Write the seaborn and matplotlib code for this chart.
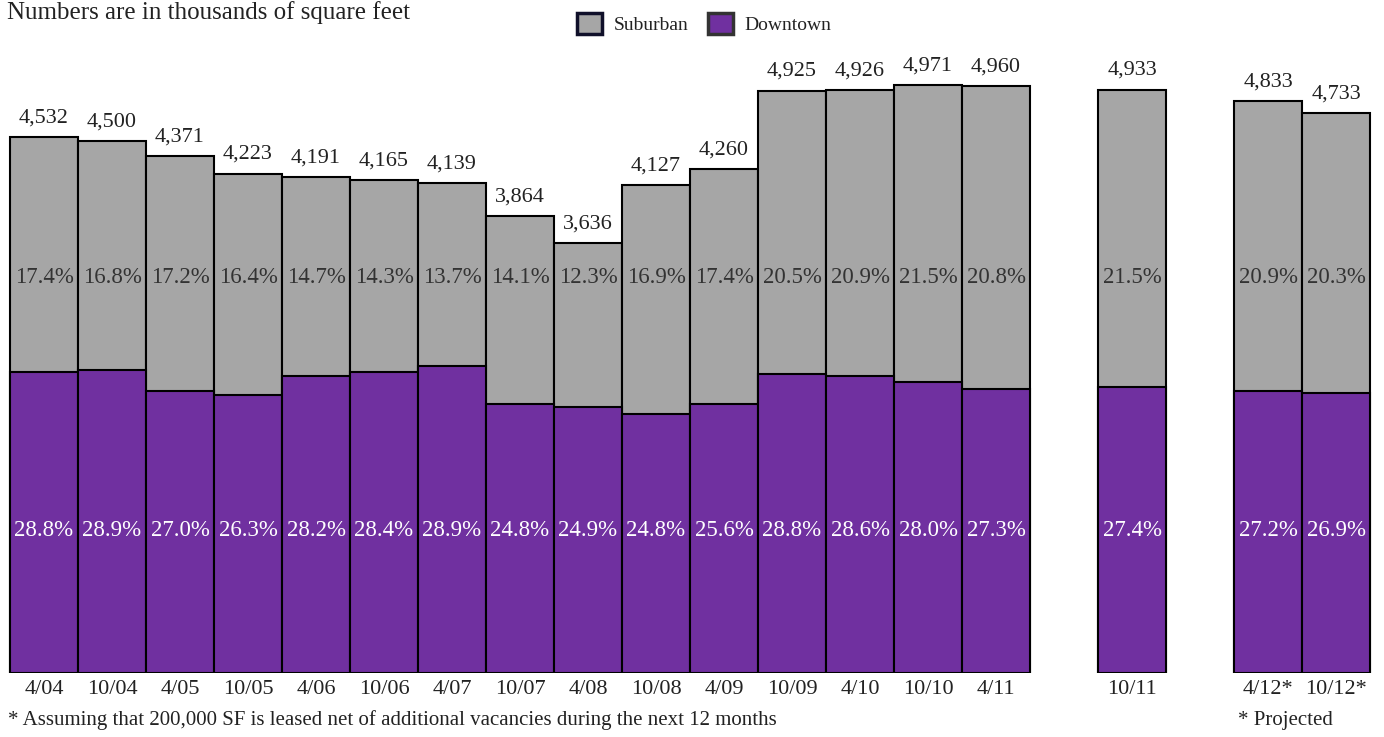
import matplotlib
matplotlib.use("Agg")
import matplotlib.pyplot as plt
from matplotlib.patches import Patch
import seaborn as sns

periods = ["4/04", "10/04", "4/05", "10/05", "4/06", "10/06", "4/07", "10/07",
           "4/08", "10/08", "4/09", "10/09", "4/10", "10/10", "4/11", "10/11",
           "4/12*", "10/12*"]
total_sf = [4532, 4500, 4371, 4223, 4191, 4165, 4139, 3864, 3636, 4127,
            4260, 4925, 4926, 4971, 4960, 4933, 4833, 4733]
downtown_sf = [2545, 2562, 2384, 2351, 2511, 2545, 2596, 2274, 2249, 2190,
               2274, 2528, 2511, 2460, 2401, 2418, 2384, 2367]
suburban_rate = ["17.4%", "16.8%", "17.2%", "16.4%", "14.7%", "14.3%", "13.7%",
                 "14.1%", "12.3%", "16.9%", "17.4%", "20.5%", "20.9%", "21.5%",
                 "20.8%", "21.5%", "20.9%", "20.3%"]
downtown_rate = ["28.8%", "28.9%", "27.0%", "26.3%", "28.2%", "28.4%", "28.9%",
                 "24.8%", "24.9%", "24.8%", "25.6%", "28.8%", "28.6%", "28.0%",
                 "27.3%", "27.4%", "27.2%", "26.9%"]

# an empty slot is left after these periods
GAP_AFTER = ["4/11", "10/11"]

GRAY = "#a6a6a6"
PURPLE = "#7030a0"


def main():
    sns.set_theme(style="white")
    plt.rcParams["font.family"] = ["Liberation Serif", "DejaVu Serif"]

    pos = []
    slot = 0
    for p in periods:
        pos.append(slot)
        slot += 2 if p in GAP_AFTER else 1

    fig = plt.figure(figsize=(13.84, 7.37), dpi=100)
    ax = fig.add_axes([0, 64 / 737, 1, 673 / 737])

    sns.barplot(x=pos, y=total_sf, native_scale=True, width=1, orient="x",
                color=GRAY, saturation=1, edgecolor="black", linewidth=1.5,
                errorbar=None, ax=ax)
    sns.barplot(x=pos, y=downtown_sf, native_scale=True, width=1, orient="x",
                color=PURPLE, saturation=1, edgecolor="black", linewidth=1.5,
                errorbar=None, ax=ax)

    ax.bar_label(ax.containers[0], labels=[f"{v:,}" for v in total_sf],
                 padding=7, fontsize=16, color="#222222")

    for x, s, d in zip(pos, suburban_rate, downtown_rate):
        ax.text(x, 3348, s, ha="center", va="center", fontsize=16.5,
                color="#333333")
        ax.text(x, 1209, d, ha="center", va="center", fontsize=16.5,
                color="white")

    px = 68
    ax.set_xlim(-0.5 - 10 / px, pos[-1] + 0.5 + 14 / px)
    ax.set_ylim(0, 673 / 0.11827)
    ax.set_xticks(pos, periods)
    ax.tick_params(axis="x", length=0, pad=5, labelsize=16, colors="#222222")
    ax.set_yticks([])
    sns.despine(ax=ax, left=True, bottom=True, top=True, right=True)
    ax.set_xlabel("")
    ax.set_ylabel("")

    fig.text(7 / 1384, 1 - 1 / 737, "Numbers are in thousands of square feet",
             ha="left", va="top", fontsize=18, color="#222222")
    fig.text(8 / 1384, 1 - 720 / 737,
             "* Assuming that 200,000 SF is leased net of additional vacancies "
             "during the next 12 months",
             ha="left", va="center", fontsize=15, color="#222222")
    fig.text(1238 / 1384, 1 - 720 / 737, "* Projected",
             ha="left", va="center", fontsize=15, color="#222222")

    handles = [Patch(facecolor=GRAY, edgecolor="#10102a", linewidth=2.5,
                     label="Suburban"),
               Patch(facecolor=PURPLE, edgecolor="#333333", linewidth=2.5,
                     label="Downtown")]
    fig.legend(handles=handles, loc="upper left", ncol=2, frameon=False,
               bbox_to_anchor=(563 / 1384, 1 + 1 / 737), fontsize=14,
               handlelength=1.3, handleheight=1.3, handletextpad=0.6,
               columnspacing=1.0, borderaxespad=0.3, labelcolor="#222222")

    fig.savefig("out.png", dpi=100)


if __name__ == '__main__':
    main()
